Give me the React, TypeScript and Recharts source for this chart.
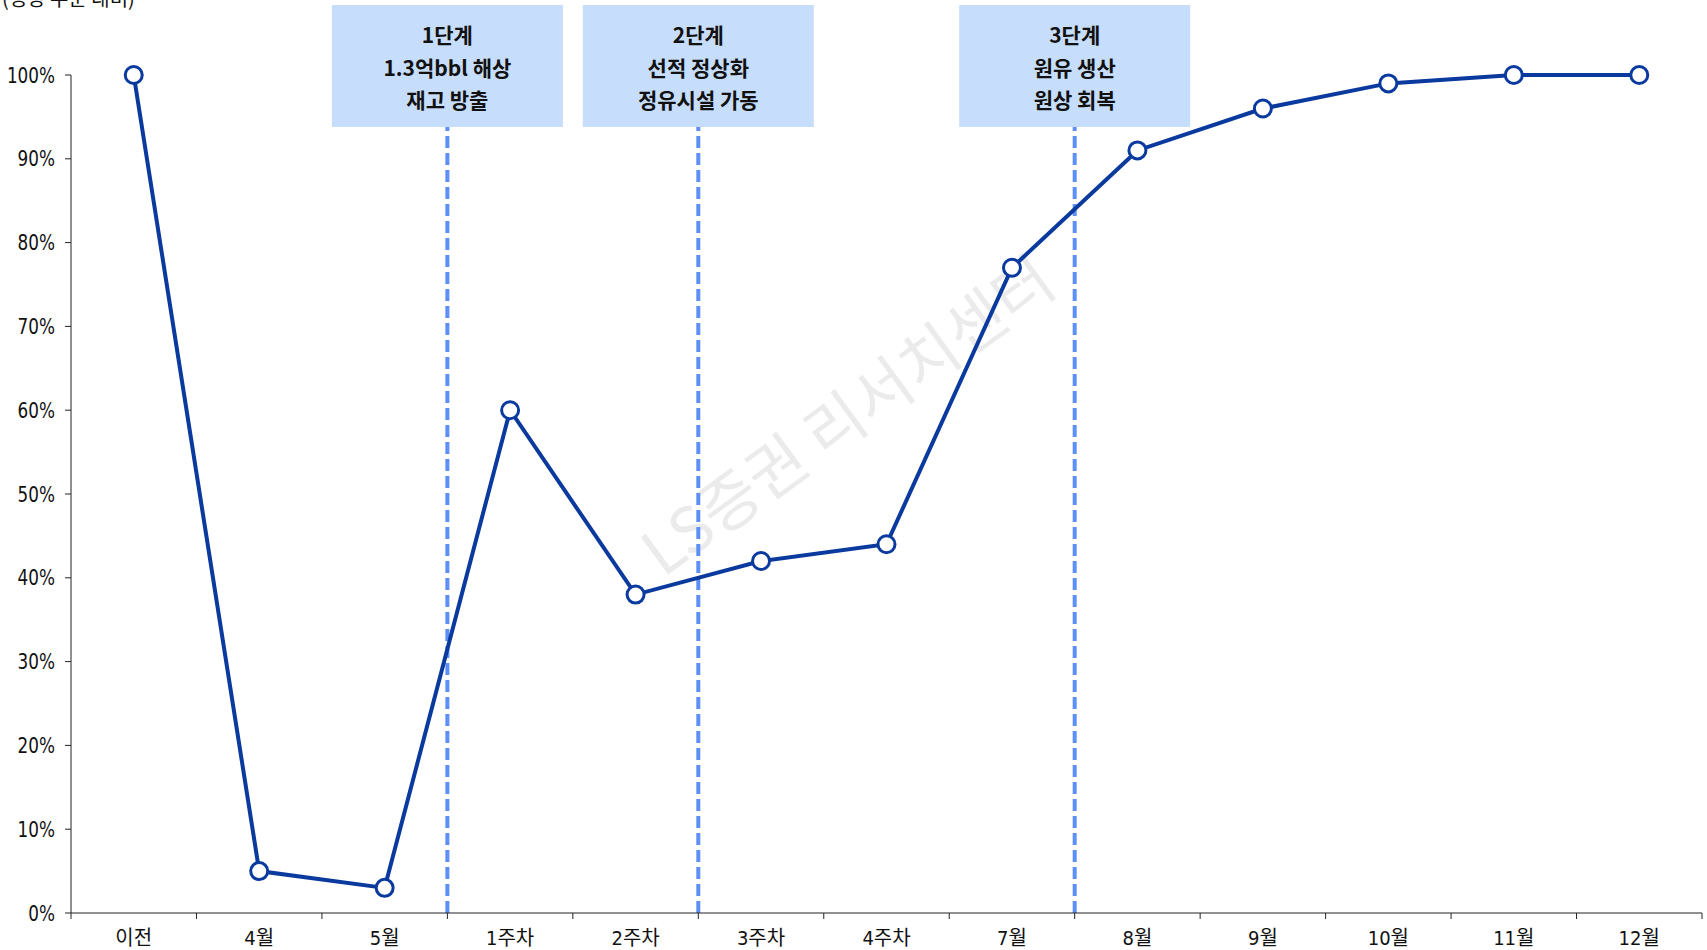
import React from "react";
import { LineChart, Line, XAxis, YAxis, ReferenceLine } from "recharts";

const categories = ["이전", "4월", "5월", "1주차", "2주차", "3주차", "4주차", "7월", "8월", "9월", "10월", "11월", "12월"];
const recovery = [100, 5, 3, 60, 38, 42, 44, 77, 91, 96, 99, 100, 100];
const yTicks = [0, 10, 20, 30, 40, 50, 60, 70, 80, 90, 100];
const stages = [
  { at: 3, lines: ["1단계", "1.3억bbl 해상", "재고 방출"] },
  { at: 5, lines: ["2단계", "선적 정상화", "정유시설 가동"] },
  { at: 8, lines: ["3단계", "원유 생산", "원상 회복"] },
];

const W = 1707;
const H = 950;
const M = { top: 75, right: 5, bottom: 7, left: 11 };
const Y_AXIS_W = 60;
const X_AXIS_H = 30;
const PLOT_W = W - M.left - M.right - Y_AXIS_W;
const BAND = PLOT_W / categories.length;

const NUM_FONT = "'Liberation Sans Narrow', 'DejaVu Sans Condensed', 'Arial Narrow', 'Noto Sans CJK KR', sans-serif";
const KR_FONT = "'Noto Sans CJK KR', 'Noto Sans', sans-serif";
const LINE_COLOR = "#0a3a9e";
const DASH_COLOR = "#5d8ff8";
const BOX_COLOR = "#c6ddfb";

const data = categories.map((name, i) => ({ name, pos: i + 0.5, value: recovery[i] }));
const xTicks = categories.map((_, i) => i).concat(categories.length);

function CategoryTick(props: any) {
  const { x, y, payload } = props;
  const label = categories[payload.value];
  if (!label) return null;
  return (
    <text x={x + BAND / 2} y={y} dy="0.71em" textAnchor="middle" fill="#111" fontSize={20} fontFamily={NUM_FONT}>
      {label}
    </text>
  );
}

function PercentTick(props: any) {
  const { x, y, payload } = props;
  return (
    <text
      transform={`translate(${x},${y}) scale(0.85,1)`}
      textAnchor="end"
      dominantBaseline="central"
      fill="#111"
      fontSize={22}
      fontFamily={NUM_FONT}
    >
      {`${payload.value}%`}
    </text>
  );
}

function StageBox(props: any) {
  const { viewBox, lines } = props;
  if (!viewBox) return null;
  const cx = viewBox.x;
  const w = 231;
  return (
    <g>
      <rect x={cx - w / 2} y={5} width={w} height={122} fill={BOX_COLOR} />
      {lines.map((t: string, i: number) => (
        <text
          key={i}
          x={cx}
          y={34 + i * 32.5}
          textAnchor="middle"
          dominantBaseline="central"
          fontSize={21}
          fontWeight={700}
          fontFamily={KR_FONT}
          fill="#111"
        >
          {t}
        </text>
      ))}
    </g>
  );
}

export default function App() {
  return (
    <div style={{ position: "absolute", left: 0, top: 0, width: W, height: H, background: "#fff", overflow: "hidden" }}>
      <div
        style={{
          position: "absolute",
          left: 2,
          top: -17,
          fontSize: 20,
          fontFamily: KR_FONT,
          color: "#111",
          whiteSpace: "nowrap",
        }}
      >
        (정상 수준 대비)
      </div>
      <div
        style={{
          position: "absolute",
          left: 845,
          top: 412,
          transform: "translate(-50%, -50%) rotate(-36deg)",
          fontSize: 63,
          fontFamily: KR_FONT,
          color: "#ebebeb",
          whiteSpace: "nowrap",
          pointerEvents: "none",
        }}
      >
        LS증권 리서치센터
      </div>
      <div style={{ position: "absolute", left: 0, top: 0 }}>
        <LineChart width={W} height={H} data={data} margin={M}>
          <XAxis
            dataKey="pos"
            type="number"
            domain={[0, categories.length]}
            ticks={xTicks}
            interval={0}
            height={X_AXIS_H}
            stroke="#222"
            tickSize={6}
            tickMargin={12}
            tick={<CategoryTick />}
          />
          <YAxis
            type="number"
            domain={[0, 100]}
            ticks={yTicks}
            interval={0}
            width={Y_AXIS_W}
            stroke="#222"
            tickSize={6}
            tickMargin={10}
            tick={<PercentTick />}
          />
          {stages.map((s) => (
            <ReferenceLine
              key={s.at}
              x={s.at}
              stroke={DASH_COLOR}
              strokeWidth={4}
              strokeDasharray="12 5"
              label={<StageBox lines={s.lines} />}
            />
          ))}
          <Line
            type="linear"
            dataKey="value"
            stroke={LINE_COLOR}
            strokeWidth={4}
            dot={{ r: 8.5, fill: "#fff", stroke: LINE_COLOR, strokeWidth: 3 }}
            activeDot={false}
            isAnimationActive={false}
          />
        </LineChart>
      </div>
    </div>
  );
}
